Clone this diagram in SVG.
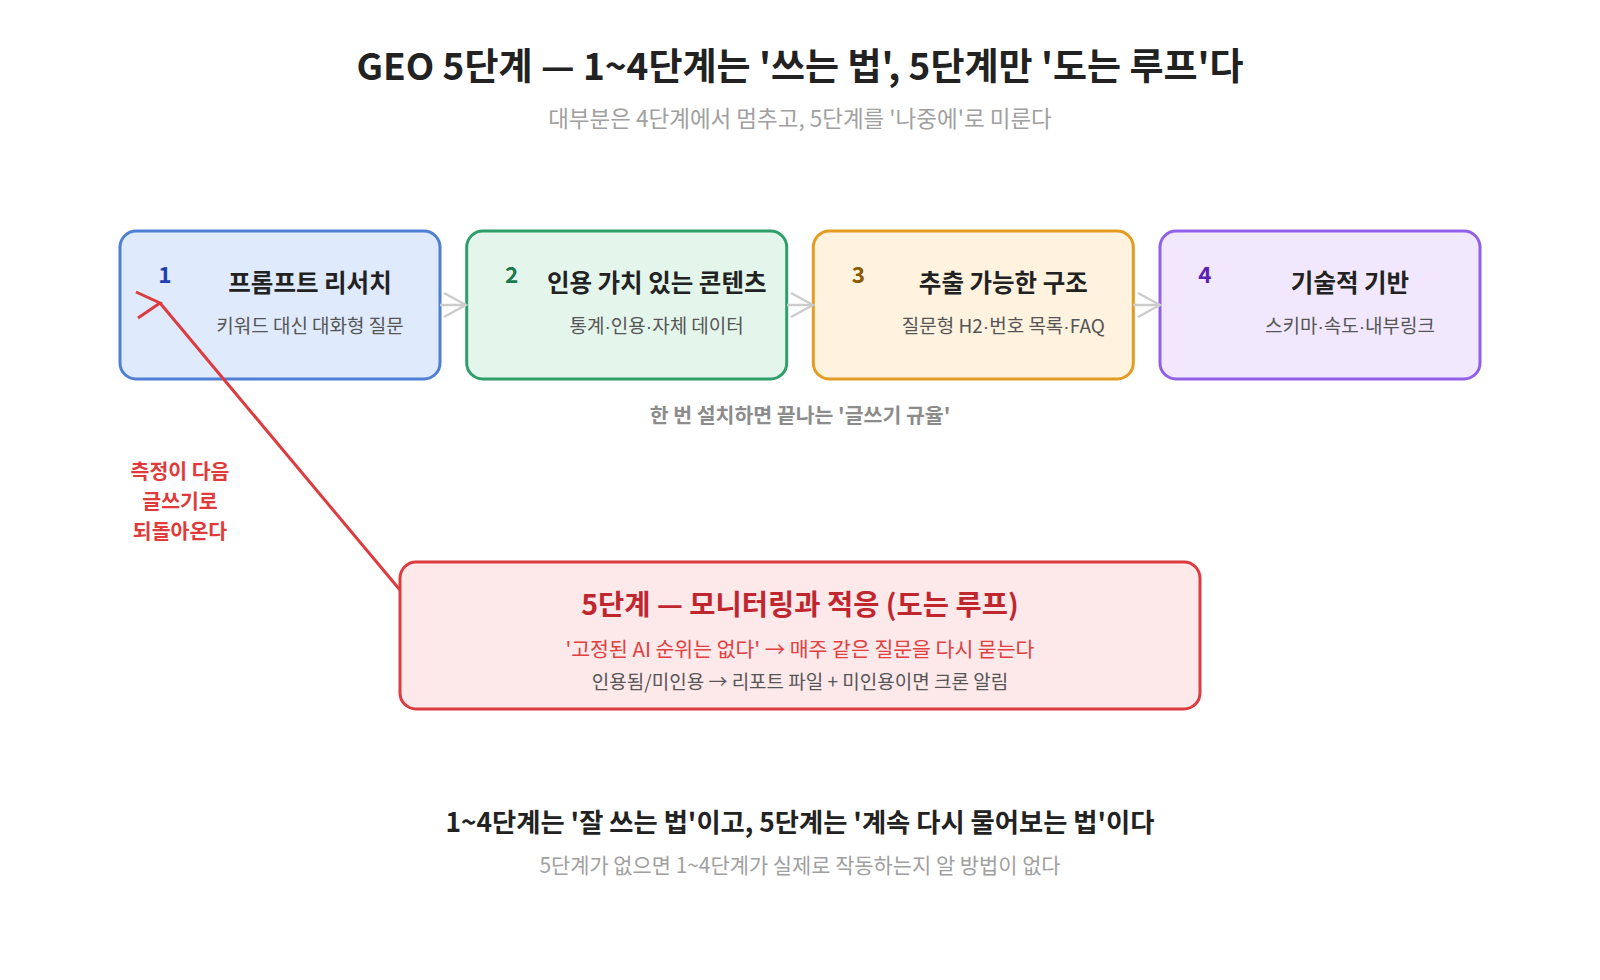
<svg xmlns="http://www.w3.org/2000/svg" width="1600" height="980" viewBox="0 0 1600 980">
<defs>
<style>
text{font-family:"Noto Sans CJK KR","Noto Sans",sans-serif}
.title{font-size:37px;font-weight:700;fill:#222}
.sub{fill:#a0a0a0}
.box{stroke-width:3}
.num{font-size:22.5px;font-weight:700;text-anchor:middle}
.bt{font-size:24.5px;font-weight:700;fill:#222;text-anchor:middle}
.bs{font-size:19px;fill:#555;text-anchor:middle}
.d{font-family:"Liberation Sans",sans-serif}
.note{font-size:20.5px;font-weight:700;fill:#8c8c8c;text-anchor:middle}
.gray{stroke:#cccccc;stroke-width:2.5;fill:none}
.red{stroke:#dc3b3f;stroke-width:3;fill:none}
.rl{font-size:20.5px;font-weight:700;fill:#e03a3a;text-anchor:middle}
</style>
<marker id="ag" markerUnits="userSpaceOnUse" viewBox="0 0 26 28" markerWidth="26" markerHeight="28" refX="24" refY="14" orient="auto">
<path d="M2,2 L24,14 L2,26" fill="none" stroke="#cccccc" stroke-width="2.5"/>
</marker>
<marker id="ar" markerUnits="userSpaceOnUse" viewBox="0 0 28 30" markerWidth="28" markerHeight="30" refX="25" refY="13" orient="0">
<path d="M1,2 L25,13 L3,28" fill="none" stroke="#dc3b3f" stroke-width="3"/>
</marker>
</defs>
<rect width="1600" height="980" fill="#ffffff"/>
<text class="title" x="800" y="80" text-anchor="middle">GEO 5단계 — 1~4단계는 '쓰는 법', 5단계만 '도는 루프'다</text>
<text class="sub" x="800" y="127" text-anchor="middle" style="font-size:22.5px">대부분은 4단계에서 멈추고, 5단계를 '나중에'로 미룬다</text>

<g id="step1">
<rect class="box" x="120" y="231" width="320" height="148" rx="16" fill="#dfeafc" stroke="#4f7fd4"/>
<text class="num" x="165" y="283" fill="#1e40af">1</text>
<text class="bt" x="310" y="292">프롬프트 리서치</text>
<text class="bs" x="310" y="333">키워드 대신 대화형 질문</text>
</g>
<g id="step2">
<rect class="box" x="466.7" y="231" width="320" height="148" rx="16" fill="#e4f6ec" stroke="#2f9e6a"/>
<text class="num" x="511.7" y="283" fill="#1a7a4c">2</text>
<text class="bt" x="656.7" y="292">인용 가치 있는 콘텐츠</text>
<text class="bs" x="656.7" y="333">통계<tspan class="d">·</tspan>인용<tspan class="d">·</tspan>자체 데이터</text>
</g>
<g id="step3">
<rect class="box" x="813.3" y="231" width="320" height="148" rx="16" fill="#fff3e0" stroke="#e39b22"/>
<text class="num" x="858.3" y="283" fill="#8a5a00">3</text>
<text class="bt" x="1003.3" y="292">추출 가능한 구조</text>
<text class="bs" x="1003.3" y="333">질문형 H2<tspan class="d">·</tspan>번호 목록<tspan class="d">·</tspan>FAQ</text>
</g>
<g id="step4">
<rect class="box" x="1160" y="231" width="320" height="148" rx="16" fill="#f1e8fd" stroke="#9160e8"/>
<text class="num" x="1205" y="283" fill="#5b21b6">4</text>
<text class="bt" x="1350" y="292">기술적 기반</text>
<text class="bs" x="1350" y="333">스키마<tspan class="d">·</tspan>속도<tspan class="d">·</tspan>내부링크</text>
</g>

<text class="note" x="800" y="423">한 번 설치하면 끝나는 '글쓰기 규율'</text>

<g id="loop-label">
<text class="rl" x="180" y="479">측정이 다음</text>
<text class="rl" x="180" y="509">글쓰기로</text>
<text class="rl" x="180" y="539">되돌아온다</text>
</g>

<g id="step5">
<rect class="box" x="400" y="562" width="800" height="147" rx="16" fill="#fde8ea" stroke="#dc3b3f"/>
<text x="800" y="615" text-anchor="middle" font-size="28.5" font-weight="700" fill="#c0262d">5단계 — 모니터링과 적응 (도는 루프)</text>
<text x="800" y="657" text-anchor="middle" font-size="20.5" fill="#e0403f">'고정된 AI 순위는 없다' → 매주 같은 질문을 다시 묻는다</text>
<text x="800" y="689" text-anchor="middle" font-size="19" fill="#555">인용됨/미인용 → 리포트 파일 + 미인용이면 크론 알림</text>
</g>

<g id="connectors">
<line class="gray" x1="440" y1="305" x2="466" y2="305" marker-end="url(#ag)"/>
<line class="gray" x1="787" y1="305" x2="813" y2="305" marker-end="url(#ag)"/>
<line class="gray" x1="1133" y1="305" x2="1160" y2="305" marker-end="url(#ag)"/>
<line class="red" x1="400" y1="590" x2="160" y2="303" marker-end="url(#ar)"/>
</g>

<text x="800" y="832" text-anchor="middle" font-size="26.3" font-weight="700" fill="#222">1~4단계는 '잘 쓰는 법'이고, 5단계는 '계속 다시 물어보는 법'이다</text>
<text class="sub" x="800" y="873" text-anchor="middle" style="font-size:20.9px">5단계가 없으면 1~4단계가 실제로 작동하는지 알 방법이 없다</text>
</svg>
